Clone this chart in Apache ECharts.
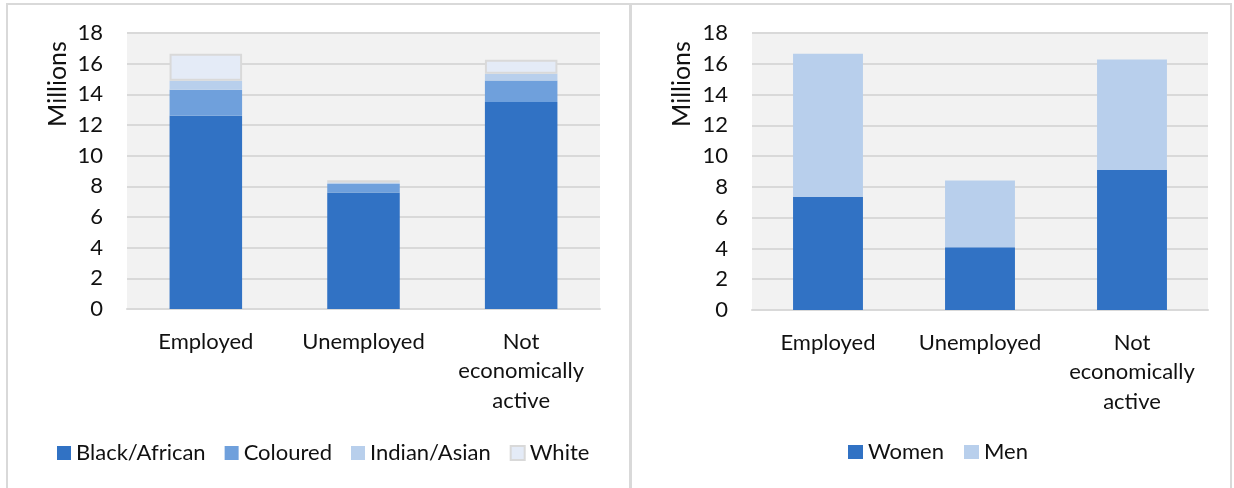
<!DOCTYPE html>
<html><head><meta charset="utf-8">
<script src="https://cdn.jsdelivr.net/npm/echarts@6/dist/echarts.min.js"></script>
<style>html,body{margin:0;padding:0;background:#fff}#c{width:1234px;height:488px}</style>
</head><body><div id="c"></div>
<script>
const categories = ['Employed', 'Unemployed', 'Not\neconomically\nactive'];
const blackAfrican = [12.6, 7.6, 13.5];
const coloured = [1.7, 0.55, 1.4];
const indianAsian = [0.58, 0.1, 0.45];
const white = [1.76, 0.15, 0.9];
const women = [7.35, 4.07, 9.1];
const men = [9.3, 4.35, 7.17];
const yTicks = {min: 0, max: 18, interval: 2};
const yName = 'Millions';

const FONT = 'Lato';
const TXT = '#111';
const FS = 22;
const chart = echarts.init(document.getElementById('c'));
function yAxis(gi) {
  return {
    type: 'value', gridIndex: gi, min: yTicks.min, max: yTicks.max, interval: yTicks.interval,
    axisLine: {show: false}, axisTick: {show: false},
    axisLabel: {fontFamily: FONT, fontSize: FS, color: TXT, margin: 24},
    splitLine: {lineStyle: {color: '#d9d9d9', width: 2}}
  };
}
function xAxis(gi) {
  return {
    type: 'category', gridIndex: gi, data: categories,
    axisLine: {show: true, lineStyle: {color: '#d9d9d9', width: 2}}, axisTick: {show: false},
    axisLabel: {fontFamily: FONT, fontSize: FS, color: TXT, margin: 18, lineHeight: 29.5, interval: 0}
  };
}
const barW = '46%';
function bar(name, data, color, gi, border) {
  return {
    name, type: 'bar', stack: 's' + gi, xAxisIndex: gi, yAxisIndex: gi, data, barWidth: barW,
    itemStyle: {color, borderColor: border || color, borderWidth: border ? 2 : 0},
    emphasis: {disabled: true}
  };
}
function nameText(x, y) {
  return {type: 'text', x, y, rotation: Math.PI / 2,
    style: {text: yName, fontFamily: FONT, fontSize: 25, fill: TXT, align: 'center', verticalAlign: 'middle'}};
}
chart.setOption({
  animation: false,
  backgroundColor: '#fff',
  graphic: [
    {type: 'rect', shape: {x: 7, y: 4, width: 623, height: 490}, style: {fill: 'none', stroke: '#d9d9d9', lineWidth: 2}},
    {type: 'rect', shape: {x: 631, y: 4, width: 600, height: 490}, style: {fill: 'none', stroke: '#d9d9d9', lineWidth: 2}},
    nameText(58, 84),
    nameText(682, 84)
  ],
  grid: [
    {left: 127, top: 33, width: 473, height: 276, show: true, backgroundColor: '#f2f2f2', borderWidth: 0, containLabel: false, outerBoundsMode: 'none'},
    {left: 752, top: 33, width: 456, height: 277, show: true, backgroundColor: '#f2f2f2', borderWidth: 0, containLabel: false, outerBoundsMode: 'none'}
  ],
  xAxis: [xAxis(0), xAxis(1)],
  yAxis: [yAxis(0), yAxis(1)],
  legend: [
    {data: ['Black/African', 'Coloured', 'Indian/Asian', 'White'], left: 57, top: 442, padding: 0, itemWidth: 14, itemHeight: 14, itemGap: 19,
     textStyle: {fontFamily: FONT, fontSize: FS, color: TXT}, icon: 'rect', selectedMode: false},
    {data: ['Women', 'Men'], left: 848, top: 441, padding: 0, itemWidth: 15, itemHeight: 14, itemGap: 20,
     textStyle: {fontFamily: FONT, fontSize: FS, color: TXT}, icon: 'rect', selectedMode: false}
  ],
  series: [
    bar('Black/African', blackAfrican, '#3172c4', 0),
    bar('Coloured', coloured, '#6fa0dc', 0),
    bar('Indian/Asian', indianAsian, '#b8cfec', 0),
    bar('White', white, '#e4ebf7', 0, '#d9d9d9'),
    bar('Women', women, '#3172c4', 1),
    bar('Men', men, '#b8cfec', 1)
  ]
});
</script></body></html>
